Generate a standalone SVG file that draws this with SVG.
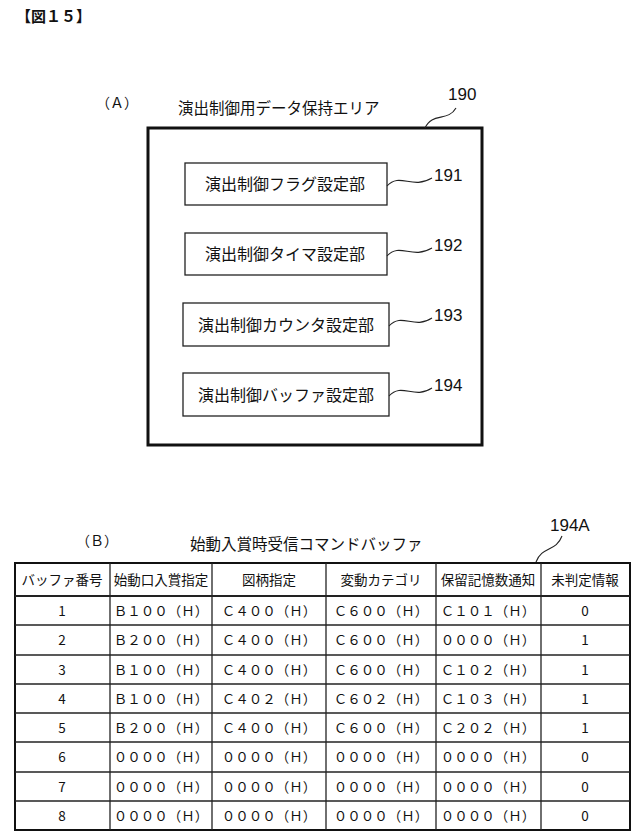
<svg xmlns="http://www.w3.org/2000/svg" width="640" height="832" viewBox="0 0 640 832">
<style>
text{font-family:"Noto Sans CJK JP","Noto Sans",sans-serif;fill:#111}
.t{font-size:14px}
.bx{font-size:16px;text-anchor:middle}
.c{font-size:13.5px;text-anchor:middle}
.n{font-family:"Liberation Sans Narrow","Liberation Sans",sans-serif;font-size:17px}
.b{fill:#fff;stroke:#222;stroke-width:1.3}
.w{fill:none;stroke:#222;stroke-width:1.1}
line{stroke:#222;stroke-width:1.3}
</style>
<rect width="640" height="832" fill="#fff"/>
<text x="16" y="22" style="font-size:15px;font-weight:bold">【図１５】</text>
<text x="96" y="108" class="t">（Ａ）</text>
<text x="178" y="114" style="font-size:15.5px">演出制御用データ保持エリア</text>
<g id="n190"><rect x="148" y="128" width="334" height="317" fill="#fff" stroke="#111" stroke-width="3"/>
<text x="448" y="100" class="n">190</text></g>
<g id="n191"><rect class="b" x="185" y="163" width="202" height="42"/><text x="285" y="190" class="bx">演出制御フラグ設定部</text><text x="434" y="181" class="n">191</text></g>
<g id="n192"><rect class="b" x="185" y="233" width="202" height="42"/><text x="285" y="260" class="bx">演出制御タイマ設定部</text><text x="434" y="251" class="n">192</text></g>
<g id="n193"><rect class="b" x="183" y="303" width="206" height="43"/><text x="286" y="331" class="bx">演出制御カウンタ設定部</text><text x="434" y="321" class="n">193</text></g>
<g id="n194"><rect class="b" x="183" y="373" width="206" height="43"/><text x="286" y="401" class="bx">演出制御バッファ設定部</text><text x="434" y="391" class="n">194</text></g>
<g id="connectors">
<path class="w" d="M425 128 C432 112 448 122 456 108"/>
<path class="w" d="M387 186 C400 172 412 190 432 178"/>
<path class="w" d="M387 256 C400 242 412 260 432 248"/>
<path class="w" d="M389 326 C402 312 414 330 432 318"/>
<path class="w" d="M389 396 C402 382 414 400 432 388"/>
<path class="w" d="M536 562 C542 546 556 552 562 536"/>
</g>
<text x="76" y="546" class="t">（Ｂ）</text>
<text x="190" y="550" style="font-size:15.5px">始動入賞時受信コマンドバッファ</text>
<text x="550" y="531" class="n">194A</text>
<g id="table">
<rect x="15" y="563" width="615" height="267" fill="none" stroke="#111" stroke-width="2"/>
<line x1="110" y1="563" x2="110" y2="830"/><line x1="212" y1="563" x2="212" y2="830"/>
<line x1="326" y1="563" x2="326" y2="830"/><line x1="436" y1="563" x2="436" y2="830"/>
<line x1="541" y1="563" x2="541" y2="830"/>
<line x1="15" y1="596" x2="630" y2="596" style="stroke-width:1.8"/>
<line x1="15" y1="625" x2="630" y2="625"/><line x1="15" y1="655" x2="630" y2="655"/>
<line x1="15" y1="684" x2="630" y2="684"/><line x1="15" y1="713" x2="630" y2="713"/>
<line x1="15" y1="742" x2="630" y2="742"/><line x1="15" y1="772" x2="630" y2="772"/>
<line x1="15" y1="801" x2="630" y2="801"/>
<g class="c">
<text x="62" y="585" class="c">バッファ番号</text><text x="161" y="585" class="c">始動口入賞指定</text><text x="269" y="585" class="c">図柄指定</text><text x="381" y="585" class="c">変動カテゴリ</text><text x="488" y="585" class="c">保留記憶数通知</text><text x="585" y="585" class="c">未判定情報</text>
<text x="62" y="616" class="c">1</text><text x="161" y="616" class="c">Ｂ１００（Ｈ）</text><text x="269" y="616" class="c">Ｃ４００（Ｈ）</text><text x="381" y="616" class="c">Ｃ６００（Ｈ）</text><text x="488" y="616" class="c">Ｃ１０１（Ｈ）</text><text x="585" y="616" class="c">0</text>
<text x="62" y="645" class="c">2</text><text x="161" y="645" class="c">Ｂ２００（Ｈ）</text><text x="269" y="645" class="c">Ｃ４００（Ｈ）</text><text x="381" y="645" class="c">Ｃ６００（Ｈ）</text><text x="488" y="645" class="c">００００（Ｈ）</text><text x="585" y="645" class="c">1</text>
<text x="62" y="675" class="c">3</text><text x="161" y="675" class="c">Ｂ１００（Ｈ）</text><text x="269" y="675" class="c">Ｃ４００（Ｈ）</text><text x="381" y="675" class="c">Ｃ６００（Ｈ）</text><text x="488" y="675" class="c">Ｃ１０２（Ｈ）</text><text x="585" y="675" class="c">1</text>
<text x="62" y="704" class="c">4</text><text x="161" y="704" class="c">Ｂ１００（Ｈ）</text><text x="269" y="704" class="c">Ｃ４０２（Ｈ）</text><text x="381" y="704" class="c">Ｃ６０２（Ｈ）</text><text x="488" y="704" class="c">Ｃ１０３（Ｈ）</text><text x="585" y="704" class="c">1</text>
<text x="62" y="733" class="c">5</text><text x="161" y="733" class="c">Ｂ２００（Ｈ）</text><text x="269" y="733" class="c">Ｃ４００（Ｈ）</text><text x="381" y="733" class="c">Ｃ６００（Ｈ）</text><text x="488" y="733" class="c">Ｃ２０２（Ｈ）</text><text x="585" y="733" class="c">1</text>
<text x="62" y="762" class="c">6</text><text x="161" y="762" class="c">００００（Ｈ）</text><text x="269" y="762" class="c">００００（Ｈ）</text><text x="381" y="762" class="c">００００（Ｈ）</text><text x="488" y="762" class="c">００００（Ｈ）</text><text x="585" y="762" class="c">0</text>
<text x="62" y="792" class="c">7</text><text x="161" y="792" class="c">００００（Ｈ）</text><text x="269" y="792" class="c">００００（Ｈ）</text><text x="381" y="792" class="c">００００（Ｈ）</text><text x="488" y="792" class="c">００００（Ｈ）</text><text x="585" y="792" class="c">0</text>
<text x="62" y="821" class="c">8</text><text x="161" y="821" class="c">００００（Ｈ）</text><text x="269" y="821" class="c">００００（Ｈ）</text><text x="381" y="821" class="c">００００（Ｈ）</text><text x="488" y="821" class="c">００００（Ｈ）</text><text x="585" y="821" class="c">0</text>
</g>
</g>
</svg>
